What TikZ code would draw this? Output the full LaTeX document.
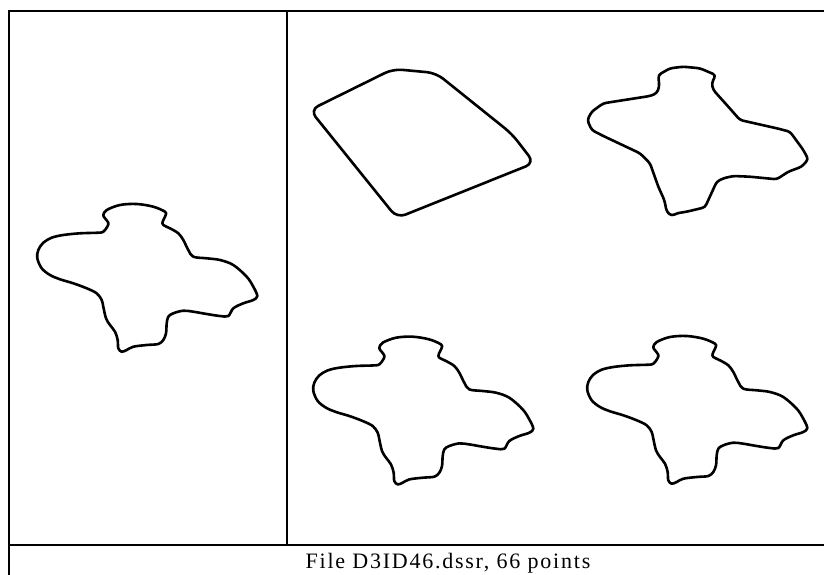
\documentclass[tikz,border=0pt]{standalone}
\usepackage{fontspec}
\setmainfont{Liberation Serif}
\begin{document}
\begin{tikzpicture}[x=1pt,y=-1pt,
  frameline/.style={line width=1.8pt,black},
  shapeline/.style={line width=2.6pt,black,line join=round},
  caption/.style={anchor=base,inner sep=0pt,font=\fontsize{22}{24}\selectfont\addfontfeature{LetterSpace=8}},
  blob/.pic={\draw[shapeline] plot[smooth cycle,tension=0.55] coordinates {
    (103.3,215) (106.7,210) (120,205) (136.7,204) (153.3,206.7) (165,211.7) (165.7,215)
    (162.7,221.7) (163.3,225) (170,228.3) (178.3,233.3) (183.3,240) (188.3,250) (193.3,256.7)
    (206.7,258.3) (220,260) (233.3,265) (246.7,276.7) (253.3,286.7) (257.3,296) (253.3,300)
    (243.3,303.3) (233.3,308.3) (228.3,316) (220,316) (206.7,314) (193.3,311.7) (183.3,310.7)
    (173.3,313.3) (168.3,316.7) (166.7,323.3) (166,333.3) (163.3,340) (158.3,344) (146.7,345)
    (133.3,346.7) (126.7,350) (121.7,351.7) (118.3,348.3) (117.7,340) (115,331.7) (110,325)
    (106,318.3) (103.3,306.7) (101.7,300) (96.7,293.3) (86.7,288.3) (73.3,283.3) (60,279.3)
    (50,275) (41.7,268.3) (37.3,258.3) (38.3,250) (43.3,242.7) (51.7,237.7) (63.3,235)
    (80,233.3) (98.3,232.7) (103.3,231.7) (107.3,226.7) (108.3,222.7) (105,218.3)};}]
\useasboundingbox (0,0) rectangle (824,575);
\fill[white] (0,0) rectangle (824,575);
% frame
\draw[frameline] (9,575) -- (9,11) -- (824,11);
\draw[frameline] (287,11) -- (287,545);
\draw[frameline] (9,545) -- (824,545);
% left original contour
\pic (orig) at (0,0) {blob};
% bottom copies
\pic (copyA) at (276,132.7) {blob};
\pic (copyB) at (550,132) {blob};
% top-left: rounded quadrilateral
\draw[shapeline,rounded corners=9pt] (310,110) -- (393,69) -- (436,73) -- (512,134) -- (534.3,163) -- (397,218) -- cycle;
% top-right: polygonal approximation
\draw[shapeline,rounded corners=3pt] (658.3,75) -- (659.3,86.7) -- (656.7,93.3) -- (650,96) -- (603.3,103.3)
  -- (591.7,111.7) -- (587.3,120) -- (591.7,130) -- (603.3,136) -- (640,153.3) -- (650,163.3)
  -- (658.3,186.7) -- (664.3,200) -- (666.7,211.7) -- (671.7,216) -- (676.7,213.3) -- (686.7,211.7)
  -- (705,207.3) -- (716.7,181.7) -- (723.3,178.3) -- (733.3,176) -- (750,176.7) -- (776.7,179.3)
  -- (788.3,171.7) -- (801.7,166.7) -- (808.3,159.3) -- (803.3,150) -- (790,131.7) -- (776.7,128.3)
  -- (740,120) -- (728.3,106.7) -- (713.3,90) -- (711.7,83.3) -- (715.7,75) -- (700,68.3)
  -- (683.3,66.7) -- (670,68.3) -- cycle;
% caption
\node[caption] (cap) at (448,568) {File D3ID46.dssr, 66 points};
\end{tikzpicture}
\end{document}
